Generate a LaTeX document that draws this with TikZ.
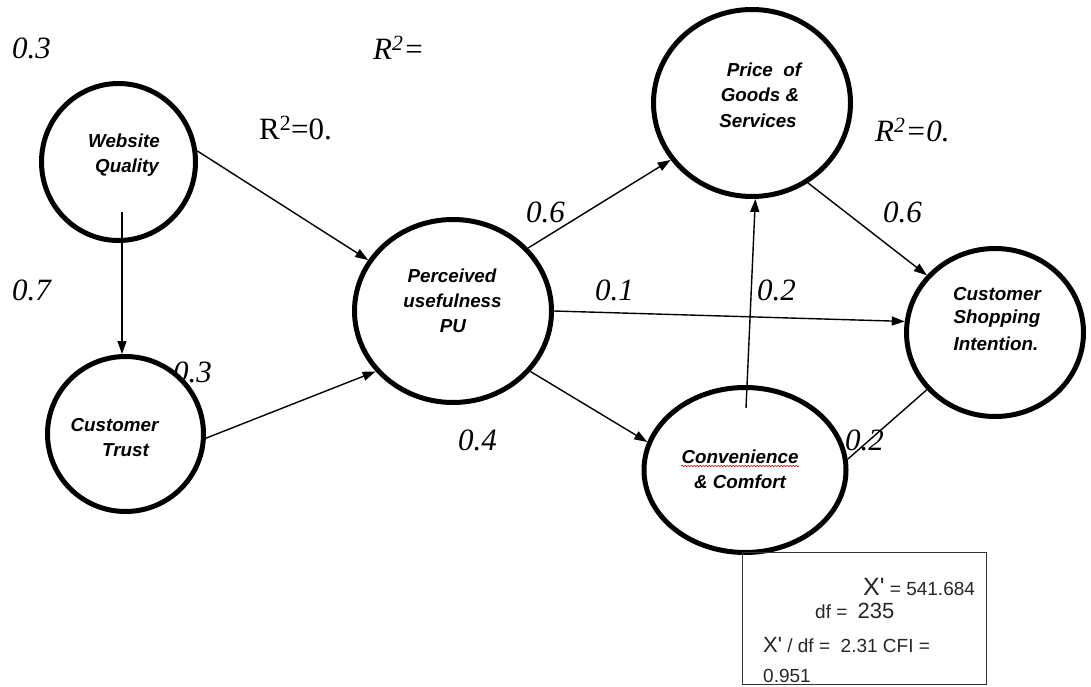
\documentclass[tikz,border=0pt]{standalone}
\usepackage{fontspec}
\setmainfont{Liberation Serif}
\newfontfamily\arial{Liberation Sans}[Ligatures=TeXOff]
\usetikzlibrary{shapes.geometric,arrows.meta,decorations.pathmorphing}
\begin{document}
\begin{tikzpicture}[x=1pt,y=-1pt,
  latent/.style={ellipse,draw,fill=white,line width=5pt,inner sep=0pt},
  conn/.style={line width=1.4pt},
  arr/.style={conn,-{Triangle[length=13pt,width=9pt]}},
  lab/.style={anchor=base,inner sep=0pt,font=\arial\bfseries\itshape\fontsize{18.8}{22}\selectfont},
  num/.style={anchor=base west,inner sep=0pt,font=\itshape\fontsize{31}{31}\selectfont},
  numup/.style={anchor=base west,inner sep=0pt,font=\fontsize{31}{31}\selectfont},
  boxtxt/.style={anchor=base west,inner sep=0pt,text=black!85,font=\arial\fontsize{19}{19}\selectfont}]
\useasboundingbox (0,0) rectangle (1091,687);
% coefficient and R^2 labels
\node[num] (n1) at (12,59) {0.3};
\node[num] (n2) at (373,60) {R\textsuperscript{2}=};
\node[numup] (n3) at (259,140) {R\textsuperscript{2}=0.};
\node[num] (n4) at (875,142) {R\textsuperscript{2}=0.};
\node[num] (n5) at (526,222) {0.6};
\node[num] (n6) at (883,222) {0.6};
\node[num] (n7) at (12,300) {0.7};
\node[num] (n8) at (173,382) {0.3};
\node[num] (n9) at (595,300) {0.1};
\node[num] (n10) at (757,300) {0.2};
\node[num] (n11) at (458,450) {0.4};
\node[num] (n12) at (845,450) {0.2};
% latent variables
\node[latent,minimum width=154pt,minimum height=157pt] (WQ) at (118.5,162) {};
\node[latent,minimum width=156pt,minimum height=155pt] (CT) at (125.5,434) {};
\node[latent,minimum width=197pt,minimum height=183pt] (PU) at (453,311) {};
\node[latent,minimum width=197pt,minimum height=187pt] (Price) at (752,103) {};
\node[latent,minimum width=177pt,minimum height=168pt] (CSI) at (995,332.5) {};
\node[latent,minimum width=202pt,minimum height=165pt] (CC) at (745,470) {};
% labels
\node[lab] (WQa) at (124,148) {Website};
\node[lab] (WQb) at (127,172) {Quality};
\node[lab] (CTa) at (114.5,431) {Customer};
\node[lab] (CTb) at (125.5,456) {Trust};
\node[lab] (PUa) at (452,282) {Perceived};
\node[lab] (PUb) at (452.5,307) {usefulness};
\node[lab] (PUc) at (453,332) {PU};
\node[lab] (PRa) at (764,77) {Price\ \ of};
\node[lab] (PRb) at (760,102) {Goods \&};
\node[lab] (PRc) at (758,128) {Services};
\node[lab] (CSa) at (997,300) {Customer};
\node[lab] (CSb) at (997,323) {Shopping};
\node[lab] (CSc) at (996,350) {Intention.};
\node[lab] (CCa) at (740,463) {Convenience};
\node[lab] (CCb) at (740,488) {\& Comfort};
\draw[red,line width=0.6pt,decorate,decoration={snake,amplitude=0.8pt,segment length=3pt}]
  ([yshift=-3pt]CCa.base west) -- ([yshift=-3pt]CCa.base east);
% connectors
\coordinate (wqin) at (122,212);
\coordinate (ccin) at (746,408);
\draw[arr] (WQ.8) -- (PU.149);
\draw[arr] (wqin) -- (wqin |- CT.north);
\draw[arr] (CT.-3) -- (PU.218);
\draw[arr] (PU.40) -- (Price.215);
\draw[arr] (PU.0) -- (CSI.173);
\draw[arr] (PU.-38) -- (CC.164);
\draw[arr] (Price.-55) -- (CSI.140);
\draw[arr] (ccin) -- (Price.-88);
\draw[conn] (CC.6) -- (CSI.220);
% fit statistics box
\node[draw=black!80,line width=1.2pt,minimum width=244pt,minimum height=132pt,inner sep=0pt,anchor=north west] (box) at (742,552) {};
\node[boxtxt] (b1) at (863,595) {{\fontsize{25}{25}\selectfont X'}\ = 541.684};
\node[boxtxt] (b2) at (815,618) {df = \hspace{5pt}{\fontsize{22}{22}\selectfont 235}};
\node[boxtxt] (b3) at (763,652) {{\fontsize{22}{22}\selectfont X'} / df = \ 2.31 CFI =};
\node[boxtxt] (b4) at (763,682) {0.951};
\end{tikzpicture}
\end{document}
